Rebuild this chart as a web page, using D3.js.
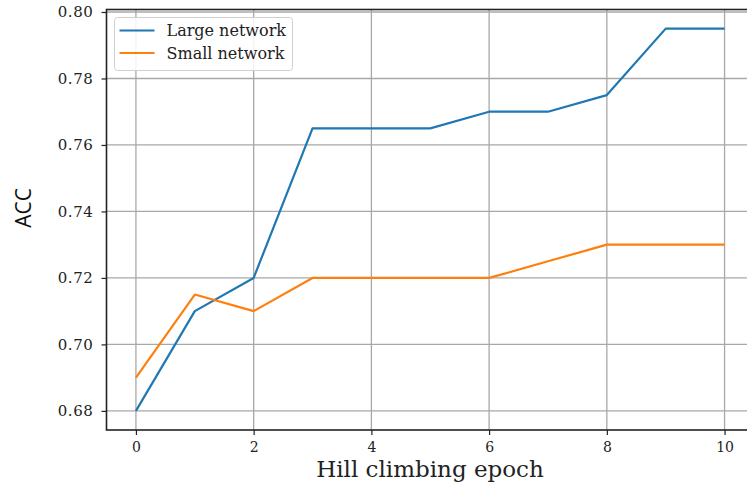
<!DOCTYPE html>
<html>
<head>
<meta charset="utf-8">
<script src="https://cdn.jsdelivr.net/npm/d3@7"></script>
<style>
  body { margin: 0; background: #fff; overflow: hidden; }
  svg { display: block; }
</style>
</head>
<body>
<div id="chart"></div>
<script>
// values
const epochs = [0, 1, 2, 3, 4, 5, 6, 7, 8, 9, 10];
const largeAcc = [0.68, 0.71, 0.72, 0.765, 0.765, 0.765, 0.77, 0.77, 0.775, 0.795, 0.795];
const smallAcc = [0.69, 0.715, 0.71, 0.72, 0.72, 0.72, 0.72, 0.725, 0.73, 0.73, 0.73];
const xTicks = [0, 2, 4, 6, 8, 10];
const yTicks = [0.68, 0.70, 0.72, 0.74, 0.76, 0.78, 0.80];
const seriesNames = ["Large network", "Small network"];
const seriesColors = ["#1f77b4", "#ff7f0e"];

const width = 747, height = 491;
const margin = {top: 9.5, right: -7, bottom: 61, left: 106.5};
const innerW = width - margin.left - margin.right;
const innerH = height - margin.top - margin.bottom;

const svg = d3.select("#chart").append("svg")
    .attr("width", width)
    .attr("height", height);

const g = svg.append("g")
    .attr("transform", `translate(${margin.left},${margin.top})`);

const x = d3.scaleLinear().domain([-0.5, 10.5]).range([0, innerW]);
const y = d3.scaleLinear().domain([0.67425, 0.80075]).range([innerH, 0]);

const serif = "'DejaVu Serif', serif";

// grid
g.append("g").selectAll("line")
    .data(xTicks).enter().append("line")
    .attr("x1", d => x(d)).attr("x2", d => x(d))
    .attr("y1", 0).attr("y2", innerH)
    .attr("stroke", "#a8a8a8").attr("stroke-width", 1.3);

g.append("g").selectAll("line")
    .data(yTicks).enter().append("line")
    .attr("x1", 0).attr("x2", innerW)
    .attr("y1", d => y(d)).attr("y2", d => y(d))
    .attr("stroke", "#a8a8a8").attr("stroke-width", 1.3);

// axes
const xAxis = g.append("g")
    .attr("transform", `translate(0,${innerH})`)
    .call(d3.axisBottom(x).tickValues(xTicks).tickSize(5).tickPadding(7).tickFormat(d3.format("d")));
const yAxis = g.append("g")
    .call(d3.axisLeft(y).tickValues(yTicks).tickSize(5).tickPadding(8).tickFormat(d3.format(".2f")));

[xAxis, yAxis].forEach(a => {
    a.select(".domain").remove();
    a.selectAll(".tick line").attr("stroke", "#222").attr("stroke-width", 1.2);
    a.selectAll(".tick text").attr("fill", "#222")
        .style("font-family", serif).style("font-size", "14px");
});
yAxis.selectAll(".tick text").style("font-size", "15px").style("letter-spacing", "0.6px");

// frame
g.append("rect")
    .attr("x", 0).attr("y", 0).attr("width", innerW).attr("height", innerH)
    .attr("fill", "none").attr("stroke", "#222").attr("stroke-width", 1.6);

// lines
const line = d3.line()
    .x((d, i) => x(epochs[i]))
    .y(d => y(d));

[largeAcc, smallAcc].forEach((s, k) => {
    g.append("path")
        .datum(s)
        .attr("d", line)
        .attr("fill", "none")
        .attr("stroke", seriesColors[k])
        .attr("stroke-width", 2.2)
        .attr("stroke-linejoin", "round");
});

// legend
const legend = g.append("g").attr("transform", "translate(8,8)");
legend.append("rect")
    .attr("width", 178).attr("height", 53)
    .attr("rx", 3)
    .attr("fill", "#fff").attr("fill-opacity", 0.85)
    .attr("stroke", "#d0d0d0");
seriesNames.forEach((n, i) => {
    const ly = 13 + i * 22.5;
    legend.append("line")
        .attr("x1", 5).attr("x2", 40)
        .attr("y1", ly).attr("y2", ly)
        .attr("stroke", seriesColors[i]).attr("stroke-width", 2.2);
    legend.append("text")
        .attr("x", 52).attr("y", ly)
        .attr("dy", "0.35em")
        .attr("fill", "#222")
        .style("font-family", serif).style("font-size", "16px")
        .text(n);
});

// axis labels
svg.append("text")
    .attr("x", 430).attr("y", 477)
    .attr("text-anchor", "middle")
    .attr("fill", "#222")
    .style("font-family", serif).style("font-size", "23px")
    .text("Hill climbing epoch");

svg.append("text")
    .attr("transform", "translate(31,208) rotate(-90)")
    .attr("text-anchor", "middle")
    .attr("fill", "#111")
    .style("font-family", "'Open Sans', sans-serif").style("font-size", "21px")
    .text("ACC");
</script>
</body>
</html>
